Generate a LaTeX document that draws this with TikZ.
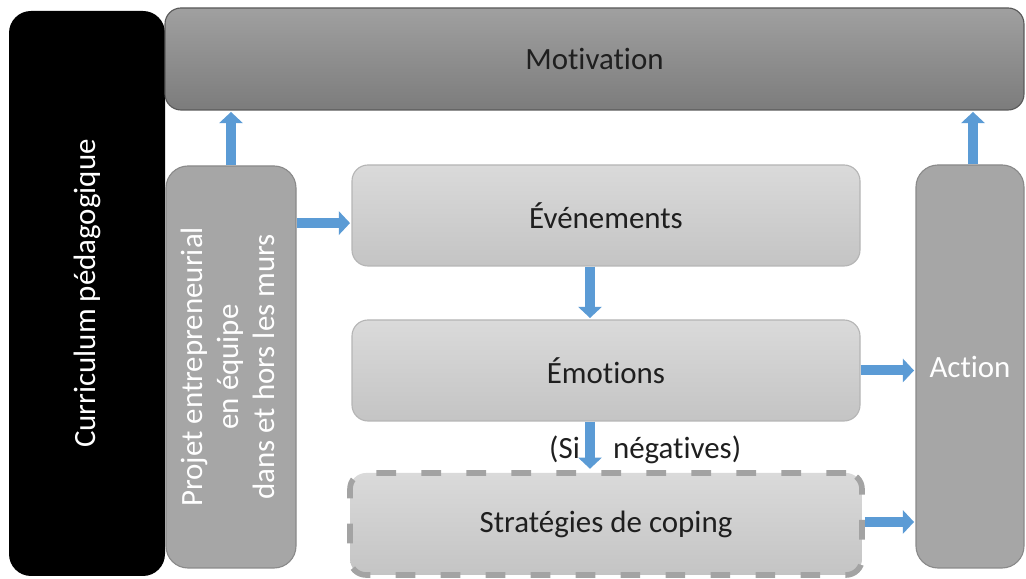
\documentclass[tikz,border=0pt]{standalone}
\usepackage{fontspec}
\setmainfont{Carlito}[Ligatures=CommonOff]
\usetikzlibrary{arrows.meta}

\definecolor{arrowblue}{HTML}{5B9BD5}
\definecolor{motivtop}{HTML}{A0A0A0}
\definecolor{motivbot}{HTML}{7C7C7C}
\definecolor{lighttop}{HTML}{DADADA}
\definecolor{lightbot}{HTML}{C4C4C4}
\definecolor{lightedge}{HTML}{B5B5B5}
\definecolor{midgray}{HTML}{A6A6A6}
\definecolor{midedge}{HTML}{8A8A8A}
\definecolor{dashgray}{HTML}{A3A3A3}

\begin{document}
\begin{tikzpicture}[thick,
    every node/.style={font=\fontsize{22}{25.5}\selectfont,text=black!88},
    step box/.style={rounded corners=0.4cm,draw=lightedge,top color=lighttop,bottom color=lightbot,minimum width=12.7cm,minimum height=2.525cm},
    tall box/.style={rounded corners=0.55cm,fill=midgray,draw=midedge,text=white},
    block/.style={draw=arrowblue,line width=0.25cm,-{Triangle[length=0.28cm,width=0.58cm]},shorten >=1pt}]
    \useasboundingbox (0,0) rectangle (25.65,14.475);

    \node[rounded corners=0.55cm,fill=black,text=white,minimum width=3.9cm,minimum height=14.125cm] (curric) at (2.175,7.1375) {\rotatebox{90}{Curriculum pédagogique}};
    \node[rounded corners=0.4cm,draw=black!65,top color=motivtop,bottom color=motivbot,minimum width=21.475cm,minimum height=2.55cm] (motiv) at (14.8625,13.0) {Motivation};
    \node[tall box,minimum width=3.25cm,minimum height=10.05cm] (projet) at (5.775,5.3) {\rotatebox{90}{\begin{tabular}{c}Projet entrepreneurial\\en équipe\\dans et hors les murs\end{tabular}}};
    \node[step box] (even) at (15.15,9.0875) {Événements};
    \node[step box] (emot) at (15.15,5.2125) {Émotions};
    \node[step box,minimum width=12.8cm,minimum height=2.55cm,draw=dashgray,line width=4pt,dash pattern=on 14pt off 18pt] (strat) at (15.15,1.375) {Stratégies de coping};
    \node[tall box,minimum width=2.7cm,minimum height=10.075cm] (action) at (24.25,5.3125) {Action};

    \draw[block] (projet.north) -- (projet.north |- motiv.south);
    \draw[block] ([xshift=0.075cm]action.north) -- ([xshift=0.075cm]action.north |- motiv.south);
    \draw[block] ([yshift=-0.19cm]projet.east |- even.west) -- ([yshift=-0.19cm]even.west);
    \draw[block] ([xshift=-0.4cm]even.south) -- ([xshift=-0.4cm]emot.north);
    \draw[block] ([xshift=-0.4cm]emot.south) -- ([xshift=-0.4cm]strat.north)
        node[midway,xshift=1.38cm,yshift=-0.1cm] {(Si\hspace{0.83cm}négatives)};
    \draw[block] (emot.east) -- (emot.east -| action.west);
    \draw[block] ([yshift=0.05cm]strat.east) -- ([yshift=0.05cm]strat.east -| action.west);
\end{tikzpicture}
\end{document}
